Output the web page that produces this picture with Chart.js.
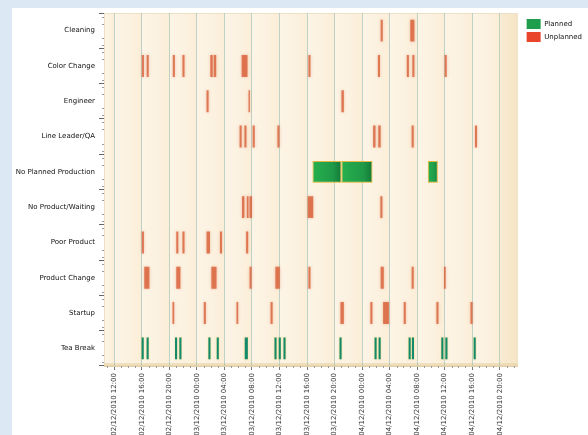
<!DOCTYPE html>
<html><head><meta charset="utf-8">
<script src="https://cdn.jsdelivr.net/npm/chart.js@4.4.0/dist/chart.umd.min.js"></script>
<style>
html,body{margin:0;padding:0;background:#dce9f5;overflow:hidden;width:588px;height:435px}
canvas{display:block}
</style></head><body>
<canvas id="c" width="588" height="435"></canvas>
<script>
// ---- categories & axis ticks ----
const categories = ['Cleaning','Color Change','Engineer','Line Leader/QA','No Planned Production',
  'No Product/Waiting','Poor Product','Product Change','Startup','Tea Break'];
// hours counted from 02/12/2010 00:00
const xTickHours = [12,16,20,24,28,32,36,40,44,48,52,56,60,64,68];
const xTickLabels = ['02/12/2010 12:00','02/12/2010 16:00','02/12/2010 20:00','03/12/2010 00:00',
  '03/12/2010 04:00','03/12/2010 08:00','03/12/2010 12:00','03/12/2010 16:00','03/12/2010 20:00',
  '04/12/2010 00:00','04/12/2010 04:00','04/12/2010 08:00','04/12/2010 12:00','04/12/2010 16:00',
  '04/12/2010 20:00'];
const xMinHour = 10.5, xMaxHour = 70.6;

// ---- unplanned stops [start hour, end hour] ----
const cleaningStops = [[50.7,51.0],[55.0,55.6]];
const colorChangeStops = [[16.0,16.3],[16.7,17.0],[20.5,20.8],[21.9,22.2],[25.95,26.3],[26.45,26.8],
  [30.5,31.35],[40.2,40.5],[50.3,50.6],[54.5,54.8],[55.3,55.6],[60.0,60.3]];
const engineerStops = [[25.4,25.7],[31.5,31.7],[45.0,45.35]];
const lineLeaderStops = [[30.2,30.5],[30.9,31.2],[32.1,32.4],[35.7,36.0],[49.6,49.95],[50.35,50.7],
  [55.2,55.5],[64.4,64.7]];
const noProductStops = [[30.55,30.9],[31.25,31.5],[31.65,32.0],[40.1,40.9],[50.65,50.95]];
const poorProductStops = [[16.0,16.3],[21.0,21.3],[21.9,22.2],[25.4,25.9],[27.35,27.65],[31.15,31.45]];
const productChangeStops = [[16.35,17.1],[21.0,21.6],[26.1,26.85],[31.65,31.95],[35.4,36.05],[40.2,40.5],
  [50.7,51.15],[55.2,55.5],[59.9,60.15]];
const startupStops = [[20.45,20.7],[25.0,25.3],[29.75,30.0],[34.7,35.0],[44.85,45.35],[49.2,49.5],
  [51.05,51.9],[54.05,54.35],[58.8,59.1],[63.75,64.05]];

// ---- planned stops ----
const noPlannedProductionStops = [[40.8,45.0],[45.0,49.5],[57.55,59.0]];
const teaBreakStops = [[15.97,16.27],[16.69,16.99],[20.82,21.12],[21.45,21.75],[25.67,25.97],[26.88,27.18],
  [30.95,31.4],[35.27,35.57],[35.89,36.19],[36.58,36.88],[44.72,45.02],[49.81,50.11],[50.4,50.7],
  [54.76,55.06],[55.24,55.54],[59.51,59.81],[60.1,60.4],[64.21,64.51]];

function toPoints(cat, list){ return list.map(r => ({y: cat, x: [r[0], r[1]]})); }

const plannedData = [].concat(
  toPoints('No Planned Production', noPlannedProductionStops),
  toPoints('Tea Break', teaBreakStops));
const unplannedData = [].concat(
  toPoints('Cleaning', cleaningStops),
  toPoints('Color Change', colorChangeStops),
  toPoints('Engineer', engineerStops),
  toPoints('Line Leader/QA', lineLeaderStops),
  toPoints('No Product/Waiting', noProductStops),
  toPoints('Poor Product', poorProductStops),
  toPoints('Product Change', productChangeStops),
  toPoints('Startup', startupStops));

const FONT = 'DejaVu Sans';

function pxWidth(ctx){
  const xs = ctx.chart.scales.x;
  if (!xs || !ctx.raw) return 0;
  return xs.getPixelForValue(ctx.raw.x[1]) - xs.getPixelForValue(ctx.raw.x[0]);
}

const bgPlugin = {
  id: 'bg',
  beforeDraw(chart){
    const c = chart.ctx, a = chart.chartArea;
    c.save();
    c.fillStyle = '#dce9f5'; c.fillRect(0,0,chart.width,chart.height);
    c.fillStyle = '#ffffff'; c.fillRect(12,8,chart.width-12,chart.height-8);
    c.fillStyle = '#fbf0db'; c.fillRect(a.left,a.top,a.right-a.left,a.bottom-a.top);
    const xs = chart.scales.x;
    const edges = [xMinHour].concat(xTickHours).concat([xMaxHour]);
    for (let i=0;i<edges.length-1;i++){
      const x0 = xs.getPixelForValue(edges[i]), x1 = xs.getPixelForValue(edges[i+1]);
      const g = c.createLinearGradient(x0,0,x1,0);
      if (i === edges.length-2){ g.addColorStop(0,'#f9ecd3'); g.addColorStop(1,'#f6e5c6'); }
      else { g.addColorStop(0,'#fcf4e6'); g.addColorStop(0.5,'#fcf2e1'); g.addColorStop(1,'#fbeed8'); }
      c.fillStyle = g; c.fillRect(x0,a.top,x1-x0,a.bottom-a.top);
    }
    c.strokeStyle = '#eee0c4'; c.lineWidth = 1;
    c.strokeRect(a.left+0.5,a.top+0.5,a.right-a.left-1,a.bottom-a.top-1);
    c.fillStyle = 'rgba(230,210,165,0.6)'; c.fillRect(a.left,a.bottom-3,a.right-a.left,3);
    c.restore();
    // nudge the legend box to the reference position (once)
    const lg = chart.legend;
    if (lg && !lg._shifted){
      lg.left += 6; lg.right += 6; lg.top += 3; lg.bottom += 3;
      lg._shifted = true;
    }
  }
};

const glowPlugin = {
  id: 'glow',
  beforeDatasetDraw(chart, args){
    const c = chart.ctx; c.save();
    if (args.index === 1){ c.shadowColor = 'rgba(225,110,70,0.55)'; c.shadowBlur = 3; }
    else { c.shadowColor = 'rgba(235,200,70,0.8)'; c.shadowBlur = 1.5; }
  },
  afterDatasetDraw(chart){ chart.ctx.restore(); }
};

const minorTicksPlugin = {
  id: 'minor',
  afterDraw(chart){
    const c = chart.ctx, a = chart.chartArea, xs = chart.scales.x, ys = chart.scales.y;
    c.save();
    c.strokeStyle = '#9a9a9a'; c.lineWidth = 1;
    for (let h = Math.ceil(xMinHour); h <= xMaxHour; h++){
      if (xTickHours.indexOf(h) >= 0) continue;
      const x = Math.round(xs.getPixelForValue(h)) + 0.5;
      c.beginPath(); c.moveTo(x,a.bottom); c.lineTo(x,a.bottom+2); c.stroke();
    }
    const step = (ys.getPixelForValue(1) - ys.getPixelForValue(0)) / 5;
    for (let i=0;i<categories.length;i++){
      const yc = ys.getPixelForValue(i);
      for (let k=-2;k<=2;k++){
        if (k===0) continue;
        const y = Math.round(yc + k*step) + 0.5;
        c.beginPath(); c.moveTo(a.left-2,y); c.lineTo(a.left,y); c.stroke();
      }
    }
    c.restore();
  }
};

new Chart(document.getElementById('c'), {
  type: 'bar',
  data: {
    labels: categories,
    datasets: [
      { label: 'Planned', data: plannedData,
        backgroundColor: (ctx) => {
          const ch = ctx.chart, xs = ch.scales.x;
          if (!xs || !ctx.raw) return '#1f9d4b';
          const x0 = xs.getPixelForValue(ctx.raw.x[0]), x1 = xs.getPixelForValue(ctx.raw.x[1]);
          if (!isFinite(x0) || !isFinite(x1) || x1 - x0 < 4) return '#128a6c';
          const g = ch.ctx.createLinearGradient(x0,0,x1,0);
          g.addColorStop(0,'#27b04e'); g.addColorStop(0.7,'#1f9a48'); g.addColorStop(1,'#137a38');
          return g;
        },
        borderColor: '#e2b543',
        borderWidth: (ctx) => pxWidth(ctx) < 4 ? 0 : 1,
        borderSkipped: false,
        grouped: false, categoryPercentage: 1, barPercentage: 0.62 },
      { label: 'Unplanned', data: unplannedData,
        backgroundColor: 'rgba(216,96,56,0.8)', borderWidth: 0,
        grouped: false, categoryPercentage: 1, barPercentage: 0.62 }
    ]
  },
  options: {
    indexAxis: 'y', responsive: false, animation: false,
    layout: { padding: { left: 0, top: 13, right: 2, bottom: 0 } },
    scales: {
      x: { type: 'linear', min: xMinHour, max: xMaxHour,
        afterBuildTicks: (s) => { s.ticks = xTickHours.map(v => ({value: v})); },
        afterFit: (s) => { s.height = 69; },
        ticks: { autoSkip: false, maxRotation: 90, minRotation: 90, padding: 3,
          font: { family: FONT, size: 7 }, color: '#333',
          callback: (v) => xTickLabels[xTickHours.indexOf(v)] },
        grid: { color: 'rgba(150,188,178,0.6)', tickLength: 4, tickColor: '#777' },
        border: { display: true, color: '#e2cfa8' } },
      y: { type: 'category', labels: categories, offset: true,
        afterFit: (s) => { s.width = 104; },
        ticks: { autoSkip: false, padding: 4, font: { family: FONT, size: 7 }, color: '#111' },
        grid: { drawOnChartArea: false, tickLength: 5, tickColor: '#666' },
        border: { display: false } }
    },
    plugins: {
      tooltip: { enabled: false },
      legend: { position: 'right', align: 'start',
        labels: { boxWidth: 14, boxHeight: 10, padding: 3, color: '#111',
          font: { family: FONT, size: 7 },
          generateLabels: (chart) => {
            const items = Chart.defaults.plugins.legend.labels.generateLabels(chart);
            items[0].fillStyle = '#1e9e4c'; items[1].fillStyle = '#e8452c';
            items.forEach(i => { i.lineWidth = 0; i.strokeStyle = i.fillStyle; });
            return items;
          } } }
    }
  },
  plugins: [bgPlugin, glowPlugin, minorTicksPlugin]
});
</script>
</body></html>
